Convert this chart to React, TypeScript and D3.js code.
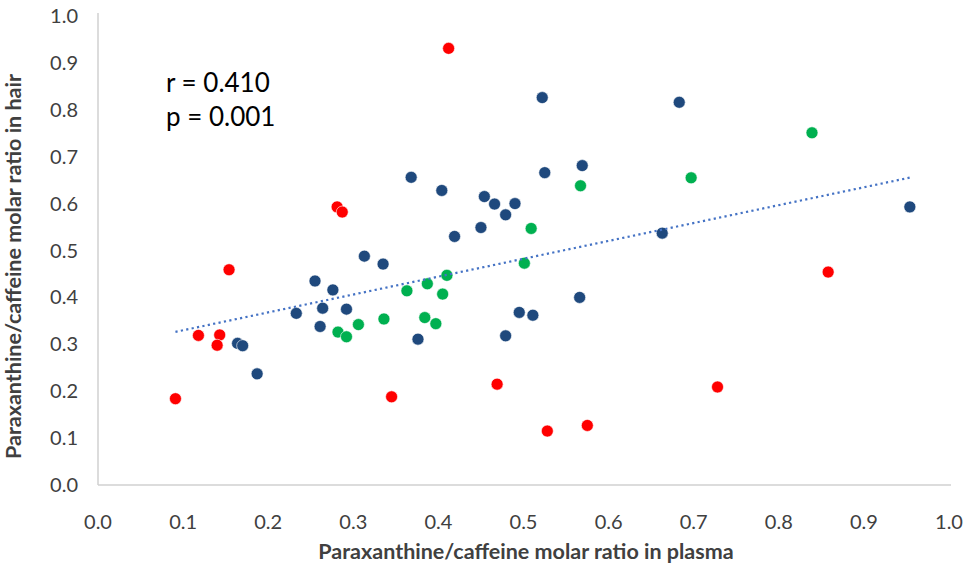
import React from 'react';
import * as d3 from 'd3';

// plasma ratio (x) and hair ratio (y)
const redX = [0.091, 0.118, 0.143, 0.14, 0.154, 0.281, 0.287, 0.345, 0.412, 0.469, 0.528, 0.575, 0.728, 0.858];
const redY = [0.184, 0.319, 0.32, 0.298, 0.459, 0.593, 0.582, 0.188, 0.931, 0.215, 0.115, 0.127, 0.209, 0.454];

const navyX = [
  0.164, 0.17, 0.187, 0.233, 0.255, 0.261, 0.264, 0.276, 0.292, 0.313, 0.335, 0.368, 0.376, 0.404, 0.419,
  0.45, 0.454, 0.466, 0.479, 0.49, 0.495, 0.511, 0.479, 0.522, 0.525, 0.566, 0.569, 0.663, 0.683, 0.954,
];
const navyY = [
  0.302, 0.297, 0.237, 0.366, 0.435, 0.338, 0.377, 0.416, 0.375, 0.488, 0.471, 0.656, 0.311, 0.628, 0.53,
  0.549, 0.615, 0.599, 0.576, 0.6, 0.368, 0.362, 0.318, 0.826, 0.666, 0.4, 0.681, 0.537, 0.816, 0.593,
];

const greenX = [0.282, 0.292, 0.306, 0.336, 0.363, 0.384, 0.387, 0.397, 0.405, 0.41, 0.501, 0.509, 0.567, 0.697, 0.839];
const greenY = [0.326, 0.316, 0.342, 0.354, 0.414, 0.357, 0.429, 0.344, 0.407, 0.447, 0.473, 0.547, 0.638, 0.655, 0.751];

const ticks = [0, 0.1, 0.2, 0.3, 0.4, 0.5, 0.6, 0.7, 0.8, 0.9, 1.0];
const stats = ['r = 0.410', 'p = 0.001'];

const W = 965;
const H = 563;
const margin = { left: 98, right: 14, top: 16, bottom: 78 };

const groups = [
  { xs: redX, ys: redY, color: '#ff0000' },
  { xs: navyX, ys: navyY, color: '#1f497d' },
  { xs: greenX, ys: greenY, color: '#00b050' },
];

// least squares fit over all points
const fit = () => {
  const xs = [...redX, ...navyX, ...greenX];
  const ys = [...redY, ...navyY, ...greenY];
  const mx = d3.mean(xs) || 0;
  const my = d3.mean(ys) || 0;
  let sxy = 0;
  let sxx = 0;
  xs.forEach((x, i) => {
    sxy += (x - mx) * (ys[i] - my);
    sxx += (x - mx) * (x - mx);
  });
  const slope = sxy / sxx;
  const [x0, x1] = d3.extent(xs) as [number, number];
  return [
    [x0, my + slope * (x0 - mx)],
    [x1, my + slope * (x1 - mx)],
  ];
};

const font = 'Lato, "Open Sans", sans-serif';

const App = () => {
  const x = d3.scaleLinear().domain([0, 1]).range([margin.left, W - margin.right - 2]);
  const y = d3.scaleLinear().domain([0, 1]).range([H - margin.bottom, margin.top]);
  const line = d3
    .line<number[]>()
    .x((d) => x(d[0]))
    .y((d) => y(d[1]));

  return (
    <svg
      width={W}
      height={H}
      style={{ position: 'absolute', left: 0, top: 0, background: '#fff' }}
      fontFamily={font}
    >
      <line x1={x(0)} x2={x(1) + 2} y1={y(0)} y2={y(0)} stroke="#d0d0d0" strokeWidth={1.5} />
      <line x1={x(0)} x2={x(0)} y1={y(1) - 3} y2={y(0)} stroke="#d0d0d0" strokeWidth={1.5} />

      <g fontSize={20} fill="#404040">
        {ticks.map((t) => (
          <text key={'x' + t} x={x(t)} y={y(0) + 37} textAnchor="middle" dy="0.35em">
            {d3.format('.1f')(t)}
          </text>
        ))}
        {ticks.map((t) => (
          <text key={'y' + t} x={x(0) - 20} y={y(t)} textAnchor="end" dy="0.35em">
            {d3.format('.1f')(t)}
          </text>
        ))}
      </g>

      <text
        x={526}
        y={551}
        textAnchor="middle"
        dy="0.35em"
        fontSize={21.5}
        fontWeight="bold"
        fill="#404040"
      >
        Paraxanthine/caffeine molar ratio in plasma
      </text>
      <text
        transform={`translate(13,${(68 + 465) / 2}) rotate(-90)`}
        textAnchor="middle"
        dy="0.35em"
        fontSize={21.5}
        fontWeight="bold"
        fill="#404040"
      >
        Paraxanthine/caffeine molar ratio in hair
      </text>

      <g fontSize={26} fill="#000">
        {stats.map((s, i) => (
          <text key={s} x={166} y={83 + i * 34} dy="0.35em">
            {s}
          </text>
        ))}
      </g>

      {groups.map((g) => (
        <g key={g.color} fill={g.color} stroke="#fff" strokeWidth={0.6}>
          {g.xs.map((v, i) => (
            <circle key={i} cx={x(v)} cy={y(g.ys[i])} r={6} />
          ))}
        </g>
      ))}

      <path
        d={line(fit()) || ''}
        fill="none"
        stroke="#4472c4"
        strokeWidth={2.2}
        strokeDasharray="2.2 3.3"
      />
    </svg>
  );
};

export default App;
